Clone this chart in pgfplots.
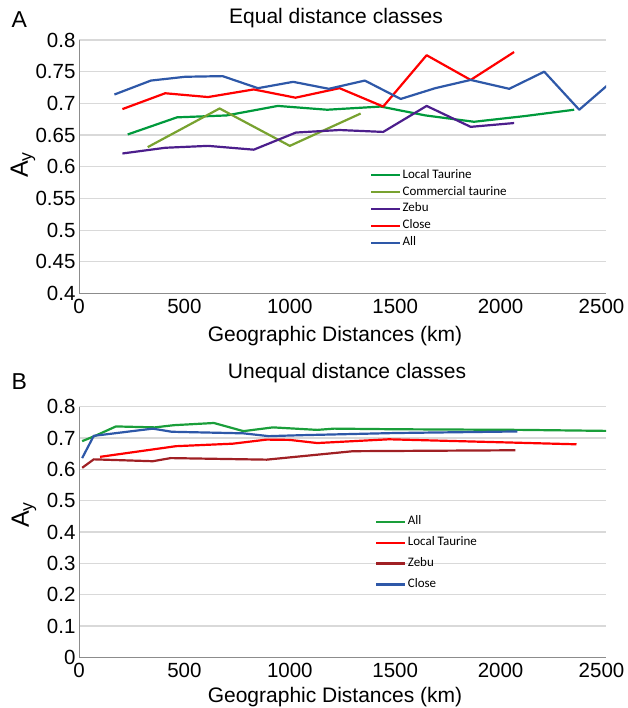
\documentclass[border=0pt]{standalone}
\usepackage{fontspec}
\setmainfont{Liberation Sans}
\newfontfamily\legfont{Carlito}
\usepackage{pgfplots}
\pgfplotsset{compat=1.18}
\definecolor{cLT}{RGB}{0,154,60}
\definecolor{cCT}{RGB}{120,162,48}
\definecolor{cZ}{RGB}{76,30,140}
\definecolor{cCl}{RGB}{255,0,0}
\definecolor{cAll}{RGB}{46,88,168}
\definecolor{cZb}{RGB}{160,32,36}
\definecolor{cG}{RGB}{26,158,58}
\pgfplotsset{mystyle/.style={scale only axis, width=527pt,
  xmin=0, xmax=2500, xtick={0,500,1000,1500,2000,2500},
  xticklabels={0,500,1000,1500,2000,{\hspace*{-9pt}2500}},
  axis x line=bottom, axis y line=left,
  axis line style={-, draw=black!45, line width=1pt},
  major tick length=0pt,
  ymajorgrids, grid style={draw=black!15, line width=1.2pt},
  ticklabel style={font=\fontsize{20.5}{22}\selectfont},
  /pgf/number format/assume math mode=true,
  /pgf/number format/fixed, /pgf/number format/precision=2,
  /pgf/number format/1000 sep={},
  scaled x ticks=false, scaled y ticks=false,
  xticklabel style={yshift=-2pt},
  legend style={draw=none, fill=none, font=\legfont\fontsize{13}{14}\selectfont,
    inner sep=0pt, outer sep=0pt, cells={anchor=west},
    nodes={inner xsep=1.5pt, inner ysep=0pt, text height=9pt, text depth=3pt}},
  legend image code/.code={\draw[##1, line width=2.2pt] (0pt,0pt) -- (29pt,0pt);},
  every axis plot/.append style={line width=2.2pt, line join=round}}}
\begin{document}
\begin{tikzpicture}
\useasboundingbox (0,0) rectangle (627pt,708pt);
% ---------- Panel A ----------
\begin{axis}[mystyle, at={(79pt,414.4pt)}, anchor=south west, height=253.6pt,
  ymin=0.4, ymax=0.8, ytick={0.4,0.45,0.5,0.55,0.6,0.65,0.7,0.75,0.8},
  legend style={at={(0.552,0.4908)}, anchor=north west, row sep=4.9pt}]
\addplot[cLT] coordinates {(231,0.651)(465,0.678)(700,0.681)(943,0.696)(1177,0.690)(1431,0.695)(1644,0.681)(1874,0.671)(2115,0.680)(2349,0.690)};
\addlegendentry{Local Taurine}
\addplot[cCT] coordinates {(326,0.631)(667,0.692)(1000,0.633)(1336,0.684)};
\addlegendentry{Commercial taurine}
\addplot[cZ] coordinates {(206,0.621)(409,0.630)(612,0.633)(829,0.627)(1029,0.654)(1236,0.658)(1443,0.655)(1649,0.696)(1858,0.663)(2064,0.669)};
\addlegendentry{Zebu}
\addplot[cCl] coordinates {(206,0.691)(409,0.716)(612,0.710)(829,0.722)(1027,0.709)(1236,0.724)(1443,0.695)(1649,0.776)(1858,0.737)(2064,0.781)};
\addlegendentry{Close}
\addplot[cAll] coordinates {(168,0.714)(341,0.736)(504,0.742)(681,0.743)(849,0.724)(1016,0.734)(1185,0.723)(1356,0.736)(1526,0.707)(1690,0.724)(1858,0.737)(2041,0.723)(2207,0.750)(2373,0.690)(2550,0.741)};
\addlegendentry{All}
\end{axis}
\node[anchor=west, font=\fontsize{23}{25}\selectfont] at (8pt,688pt) {A};
\node[font=\fontsize{21}{24}\selectfont] at (336pt,690pt) {Equal distance classes};
\node[font=\fontsize{21}{24}\selectfont] at (335pt,372pt) {Geographic Distances (km)};
\node[rotate=90, font=\fontsize{25}{27}\selectfont] at (23pt,543pt) {A\textsubscript{y}};
% ---------- Panel B ----------
\begin{axis}[mystyle, at={(79pt,50.6pt)}, anchor=south west, height=250.7pt,
  ymin=0, ymax=0.8, ytick={0,0.1,0.2,0.3,0.4,0.5,0.6,0.7,0.8},
  legend style={at={(0.562,0.565)}, anchor=north west, row sep=8.9pt}]
\addplot[cG] coordinates {(15,0.690)(80,0.708)(175,0.737)(360,0.734)(450,0.741)(640,0.748)(780,0.722)(920,0.734)(1130,0.726)(1210,0.730)(1500,0.728)(2100,0.726)(2600,0.722)};
\addlegendentry{All}
\addplot[cCl] coordinates {(100,0.640)(460,0.674)(730,0.682)(890,0.695)(1000,0.694)(1130,0.684)(1470,0.696)(2360,0.680)};
\addlegendentry{Local Taurine}
\addplot[cZb] coordinates {(15,0.605)(70,0.632)(350,0.626)(435,0.636)(890,0.631)(1300,0.658)(2070,0.661)};
\addlegendentry{Zebu}
\addplot[cAll] coordinates {(15,0.636)(70,0.707)(350,0.730)(440,0.720)(780,0.715)(900,0.706)(1050,0.709)(1500,0.716)(2080,0.721)};
\addlegendentry{Close}
\end{axis}
\node[anchor=west, font=\fontsize{23}{25}\selectfont] at (8pt,326pt) {B};
\node[font=\fontsize{21}{24}\selectfont] at (347pt,335pt) {Unequal distance classes};
\node[font=\fontsize{21}{24}\selectfont] at (335pt,11pt) {Geographic Distances (km)};
\node[rotate=90, font=\fontsize{25}{27}\selectfont] at (24pt,193pt) {A\textsubscript{y}};
\end{tikzpicture}
\end{document}
